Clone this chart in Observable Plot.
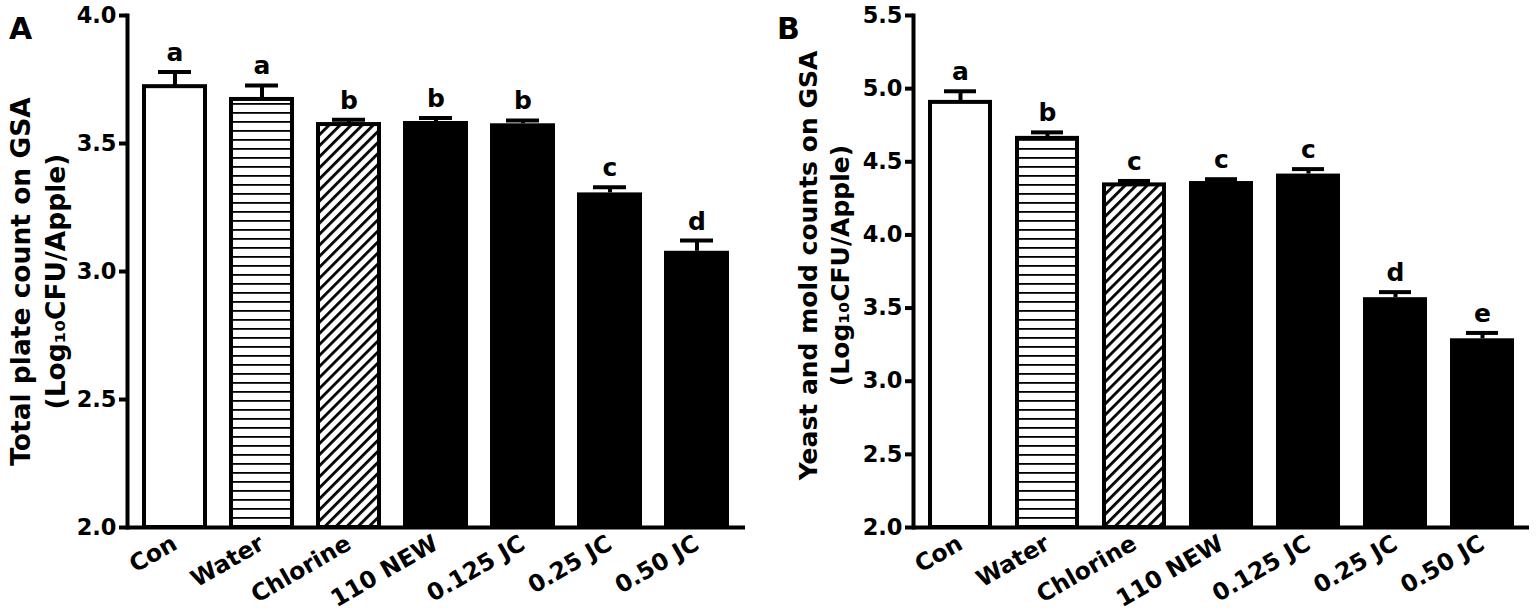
<!DOCTYPE html>
<html>
<head>
<meta charset="utf-8">
<script src="https://cdn.jsdelivr.net/npm/d3@7"></script>
<script src="https://cdn.jsdelivr.net/npm/@observablehq/plot@0.6"></script>
<style>
  html, body { margin: 0; padding: 0; background: white; }
  #wrap { display: flex; flex-direction: row; width: 1537px; height: 616px; }
</style>
</head>
<body>
<div id="wrap"></div>
<script>
// ---- data ----
const categories = ["Con", "Water", "Chlorine", "110 NEW", "0.125 JC", "0.25 JC", "0.50 JC"];

const tpcMean    = [3.722, 3.672, 3.574, 3.586, 3.577, 3.307, 3.079];
const tpcSE      = [0.057, 0.055, 0.019, 0.014, 0.013, 0.022, 0.042];
const tpcLetters = ["a", "a", "b", "b", "b", "c", "d"];
const tpcTicks   = [2.0, 2.5, 3.0, 3.5, 4.0];

const ymMean     = [4.906, 4.660, 4.342, 4.365, 4.416, 3.571, 3.290];
const ymSE       = [0.076, 0.041, 0.027, 0.016, 0.034, 0.038, 0.040];
const ymLetters  = ["a", "b", "c", "c", "c", "d", "e"];
const ymTicks    = [2.0, 2.5, 3.0, 3.5, 4.0, 4.5, 5.0, 5.5];

const titleA = "Total plate count on GSA\n(Log₁₀CFU/Apple)";
const titleB = "Yeast and mold counts on GSA\n(Log₁₀CFU/Apple)";

function panel({id, means, ses, letters, ticks, width, marginLeft, marginRight, padIn, padOut, title, titleDy, titleSize}) {
  const data = categories.map((c, i) => ({cat: c, mean: means[i], se: ses[i], top: means[i] + ses[i], letter: letters[i]}));
  const y0 = ticks[0];
  const outlined = {x: "cat", y1: y0, y2: "mean", stroke: "black", strokeWidth: 4, insetLeft: 2, insetRight: 2};
  const svg = Plot.plot({
    width, height: 616,
    marginLeft, marginRight, marginTop: 15, marginBottom: 89,
    style: {fontFamily: "DejaVu Sans", fontWeight: "bold", color: "black", background: "white", overflow: "visible"},
    x: {type: "band", domain: categories, paddingInner: padIn, paddingOuter: padOut, label: null},
    y: {domain: [ticks[0], ticks[ticks.length - 1]], label: null},
    marks: [
      Plot.barY(data, {...outlined, filter: d => d.cat === "Con", fill: "white"}),
      Plot.barY(data, {...outlined, filter: d => d.cat === "Water", fill: `url(#${id}-hl)`}),
      Plot.barY(data, {...outlined, filter: d => d.cat === "Chlorine", fill: `url(#${id}-dg)`}),
      Plot.barY(data, {x: "cat", y1: y0, y2: "mean", filter: d => !["Con", "Water", "Chlorine"].includes(d.cat), fill: "black"}),
      Plot.ruleX(data, {x: "cat", y1: "mean", y2: "top", strokeWidth: 4}),
      Plot.tickY(data, {x: "cat", y: "top", strokeWidth: 4, insetLeft: 16, insetRight: 16}),
      Plot.text(data, {x: "cat", y: "top", text: "letter", dy: -11, lineAnchor: "bottom", fontSize: 25}),
      Plot.ruleY([y0], {strokeWidth: 4}),
      Plot.frame({anchor: "left", strokeWidth: 4}),
      Plot.axisY({ticks, tickFormat: d3.format(".1f"), tickSize: 8, tickPadding: 3, strokeWidth: 4, fontSize: 22.5, label: null}),
      Plot.axisX({tickSize: 0, tickRotate: -30, tickPadding: 14, fontSize: 23.5, label: null}),
      Plot.text([title], {frameAnchor: "left", rotate: -90, dx: -91, dy: titleDy, fontSize: titleSize, lineHeight: 1.3, textAnchor: "middle", lineAnchor: "middle"}),
      Plot.text([id], {frameAnchor: "top-left", dx: -marginLeft + 20, dy: 23, fontSize: 30, textAnchor: "middle", lineAnchor: "bottom"})
    ]
  });
  d3.select(svg).insert("defs", ":first-child").html(
    `<pattern id="${id}-hl" patternUnits="userSpaceOnUse" width="10" height="9">
       <rect width="10" height="9" fill="white"/><rect y="4" width="10" height="1.8" fill="black"/>
     </pattern>
     <pattern id="${id}-dg" patternUnits="userSpaceOnUse" width="7.8" height="10" patternTransform="rotate(45)">
       <rect width="7.8" height="10" fill="white"/><rect width="2.8" height="10" fill="black"/>
     </pattern>`);
  return svg;
}

const wrap = document.getElementById("wrap");
wrap.append(panel({id: "A", means: tpcMean, ses: tpcSE, letters: tpcLetters, ticks: tpcTicks,
  width: 768, marginLeft: 127, marginRight: 23, padIn: 0.25, padOut: 0.15, title: titleA, titleDy: 10, titleSize: 26.5}));
wrap.append(panel({id: "B", means: ymMean, ses: ymSE, letters: ymLetters, ticks: ymTicks,
  width: 769, marginLeft: 145, marginRight: 8, padIn: 0.26, padOut: 0.165, title: titleB, titleDy: -6, titleSize: 25}));
</script>
</body>
</html>
